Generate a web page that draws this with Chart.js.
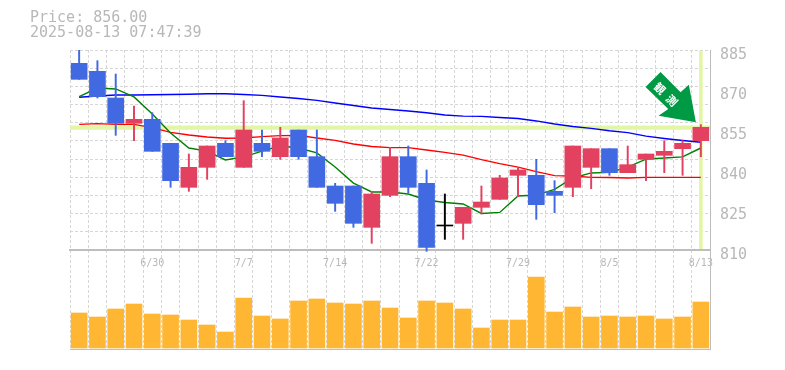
<!DOCTYPE html>
<html><head><meta charset="utf-8">
<style>html,body{margin:0;padding:0;background:#fff}#wrap{width:785px;height:370px}</style>
<script src="https://cdn.jsdelivr.net/npm/chart.js@4"></script>
</head><body><div id="wrap"><canvas id="c" width="785" height="370"></canvas></div>
<script>
const titleLines = ['Price: 856.00', '2025-08-13 07:47:39'];
const categories = ['6/24','6/25','6/26','6/27','6/30','7/1','7/2','7/3','7/4','7/7','7/8','7/9','7/10','7/11','7/14','7/15','7/16','7/17','7/18','7/22','7/23','7/24','7/25','7/28','7/29','7/30','7/31','8/1','8/4','8/5','8/6','8/7','8/8','8/12','8/13'];
const shownDates = ['6/30','7/7','7/14','7/22','7/29','8/5','8/13'];
const opens  = [880,877,867,857.5,859,850,833.5,841,850,841,850,845,855,845,834,834,818.5,830.5,845,835,819,820,826,829,838,838,832,833.5,841,848,839,844,845.5,848,851];
const closes = [874,867.5,857.5,859,847,836,841,849,845,855,847,852,845,833.5,827.5,820,831,845,833.5,811,819,826,828,837,840,827,830.5,849,848,839,842,846,847,850,856];
const highs  = [885,881,876,864,861.5,850,846,849,851,866,855,856,855,855,835,834,832,848.5,849,840,831,826,834,838,841,844,836,849,848,848,849,846,851,851,857];
const lows   = [874,867,853,851,847,833.5,832,836.5,845,841,845,844,844,833.5,824.5,818.5,812.5,830,831.5,809.5,814,814,823.5,829,830,821.5,824,830,833,838,839,836,839,838,845];
const maShort = [867.5,870.75,870.4,867.4,861,853.9,848.25,847.1,843.75,844.9,847.1,849,848.25,846.4,841.1,835.1,831.75,831.75,831,828.75,827.8,827.25,823.7,824.1,830.25,830.6,832.7,837,838.9,839.1,841.1,844.1,844.5,844.9,848.25];
const maMid = [857.1,857.4,857.1,857.1,855.9,854.1,853.1,852.4,851.9,852,852.5,852.9,853,852,851.1,849.75,848.8,848.4,848.4,847.5,846.6,845.6,843.9,842.4,841.1,839.4,837.9,837.75,837.25,837.2,837,837.25,837.25,837.25,837.25];
const maLong = [867.3,867.75,868.1,868.1,868.2,868.3,868.4,868.6,868.6,868.3,868,867.4,866.8,866.1,865.1,864.2,863.25,862.7,862.1,861.45,860.6,860.2,860.1,859.7,859.3,858.4,857.25,856.3,855.6,854.7,854,852.7,851.8,851.05,850.4];
const volumes = [35000,31000,39000,44000,34000,33000,28000,23000,16000,50000,32000,29000,47000,49000,45000,44000,47000,40000,30000,47000,45000,39000,20000,28000,28000,71000,36000,41000,31000,32000,31000,32000,29000,31000,46000];
const priceTicks = [885,870,855,840,825,810];
const lastPrice = 856;
const arrowLabel = ['観','測'];

const UP='#e2415f', DOWN='#4169e1', FLAT='#000000', GRID='#d6d6d6', AXIS='#bdbdbd', TXT='#b8b8b8', BAND='#e3f6a6', VOL='#ffb733', ARROW='#009944';
const candleColor = i => closes[i]>opens[i] ? UP : closes[i]<opens[i] ? DOWN : FLAT;
const colors = categories.map((_,i)=>candleColor(i));
const mono = 'DejaVu Sans Mono';
const PRICE_MIN = 885 - 299*0.375;
const gridCount = 11;

const arrowPlugin = {
  id:'arrow',
  afterDatasetsDraw(chart){
    const {ctx,scales} = chart;
    const tipX = scales.x.getPixelForValue(categories.length-1) - 5;
    const tipY = scales.y.getPixelForValue(lastPrice) - 5;
    const pts = [[0,0],[-7,-37.7],[-15.3,-30],[-35.3,-50.4],[-50.3,-35.4],[-27.6,-13.4],[-37.3,-6.7]];
    ctx.save();
    ctx.translate(tipX,tipY);
    ctx.beginPath();
    pts.forEach((p,i)=> i?ctx.lineTo(p[0],p[1]):ctx.moveTo(p[0],p[1]));
    ctx.closePath();
    ctx.fillStyle=ARROW; ctx.fill();
    ctx.translate(-30,-28);
    ctx.rotate(Math.PI/4);
    ctx.fillStyle='#fff';
    ctx.font='bold 11px "Noto Sans CJK JP"';
    ctx.textAlign='center'; ctx.textBaseline='middle';
    ctx.fillText(arrowLabel[0],-8.5,0);
    ctx.fillText(arrowLabel[1],8.5,0);
    ctx.restore();
  }
};

new Chart(document.getElementById('c'),{
  type:'bar',
  plugins:[arrowPlugin],
  data:{
    labels:categories,
    datasets:[
      {label:'hband',data:categories.map(()=>[lastPrice-0.8,lastPrice+0.55]),backgroundColor:BAND,barPercentage:1,categoryPercentage:1,grouped:false,order:20,yAxisID:'y'},
      {label:'vband',data:categories.map((_,i)=>i===categories.length-1?[810.5,884.6]:null),backgroundColor:BAND,barThickness:3,grouped:false,order:19,yAxisID:'y'},
      {type:'line',label:'MA long',data:maLong,borderColor:'#0000ff',borderWidth:1.4,pointRadius:0,tension:0,order:12,yAxisID:'y'},
      {type:'line',label:'MA mid',data:maMid,borderColor:'#ff0000',borderWidth:1.4,pointRadius:0,tension:0,order:11,yAxisID:'y'},
      {type:'line',label:'MA short',data:maShort,borderColor:'#008000',borderWidth:1.4,pointRadius:0,tension:0,order:10,yAxisID:'y'},
      {label:'wick',data:categories.map((_,i)=>[lows[i],highs[i]]),backgroundColor:colors,barThickness:1.3,grouped:false,order:5,yAxisID:'y'},
      {label:'body',data:categories.map((_,i)=>[opens[i],closes[i]]),backgroundColor:colors,barThickness:16,minBarLength:1,grouped:false,order:4,yAxisID:'y'},
      {label:'volume',data:volumes,backgroundColor:VOL,barThickness:16,grouped:false,order:3,yAxisID:'yVol'}
    ]
  },
  options:{
    responsive:false,animation:false,
    layout:{padding:{left:30,right:0,top:0,bottom:21}},
    plugins:{
      legend:{display:false},tooltip:{enabled:false},
      title:{display:true,text:titleLines,align:'start',color:TXT,font:{family:mono,size:15,weight:'normal',lineHeight:'15px'},padding:{top:11,bottom:9}}
    },
    scales:{
      x:{type:'category',position:{y:810},offset:true,
        grid:{display:true,offset:true,color:GRID,drawTicks:false,lineWidth:1},
        border:{display:true,color:AXIS,width:2,dash:[3,2]},
        ticks:{autoSkip:false,maxRotation:0,minRotation:0,padding:7,color:TXT,font:{family:mono,size:10},
          callback(v){const l=categories[v];return shownDates.includes(l)?l:'';}}
      },
      xBottom:{type:'category',labels:categories,position:'bottom',offset:true,
        grid:{display:false},border:{display:true,color:AXIS,width:1},ticks:{display:false},
        afterFit(s){s.height=0;}
      },
      gridY:{type:'linear',position:'left',min:PRICE_MIN,max:885,
        grid:{color:GRID,drawTicks:false},border:{display:false,dash:[3,2]},
        ticks:{display:false},
        afterBuildTicks(s){s.ticks=Array.from({length:gridCount+1},(_,k)=>({value:885-k*75/gridCount}));},
        afterFit(s){s.width=40;}
      },
      y:{type:'linear',position:'right',min:PRICE_MIN,max:885,
        grid:{display:false},border:{display:true,color:AXIS,width:1},
        ticks:{color:TXT,padding:2,labelOffset:5,font:{family:mono,size:15},callback:v=>String(v)},
        afterBuildTicks(s){s.ticks=priceTicks.map(v=>({value:v}));},
        afterFit(s){s.width=75;}
      },
      yVol:{type:'linear',display:false,min:-1000,max:298000}
    }
  }
});
</script></body></html>
